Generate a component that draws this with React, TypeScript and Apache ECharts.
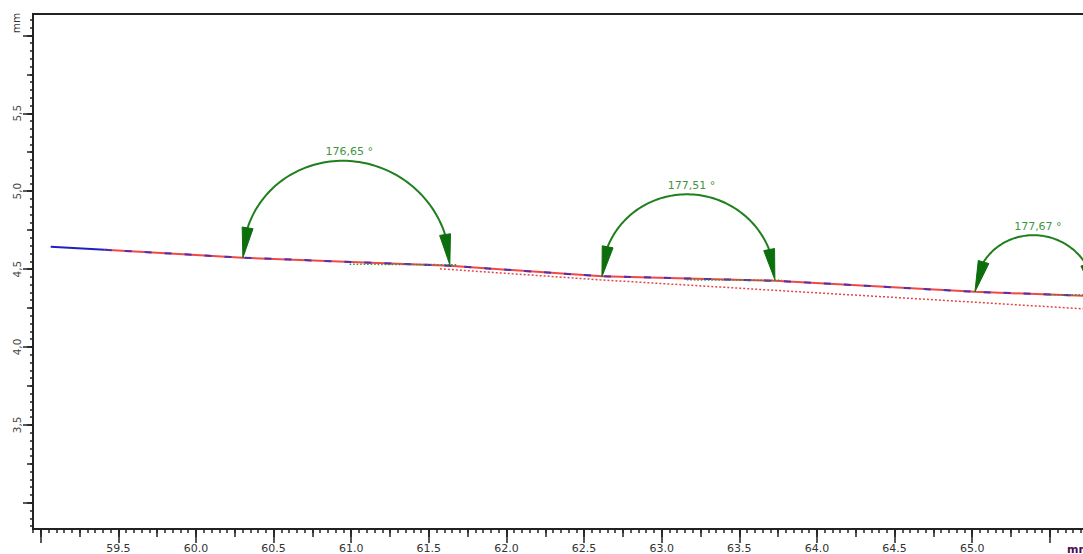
import React, { useEffect, useRef } from 'react';
import * as echarts from 'echarts';

// Axis ranges
const xMin = 58.95;
const xMax = 66.0;
const yMin = 2.832;
const yMax = 6.137;

// Tick labels
const xLabelValues = [59.5, 60.0, 60.5, 61.0, 61.5, 62.0, 62.5, 63.0, 63.5, 64.0, 64.5, 65.0];
const yLabelValues = [3.5, 4.0, 4.5, 5.0, 5.5];

// Main measured profile
const blueStartX = [59.064, 59.412];
const blueStartY = [4.643, 4.624];
const profileX = [59.412, 60.302, 61.635, 62.615, 63.729, 65.018, 65.714, 65.95];
const profileY = [4.624, 4.573, 4.521, 4.454, 4.425, 4.354, 4.329, 4.318];

// Red dotted fitted line
const redDotX = [61.571, 62.602, 63.89, 64.857, 65.714, 65.95];
const redDotY = [4.502, 4.431, 4.354, 4.297, 4.245, 4.232];

// Green dotted reference segments
const green1X = [60.99, 61.687];
const green1Y = [4.531, 4.528];
const green2X = [63.162, 63.774];
const green2Y = [4.431, 4.428];
const green3X = [65.482, 65.95];
const green3Y = [4.335, 4.333];

// Angle annotations
const angleLeftX = [60.302, 62.615, 65.018];
const angleLeftY = [4.573, 4.451, 4.354];
const angleRightX = [61.635, 63.729, 65.79];
const angleRightY = [4.528, 4.432, 4.335];
const angleLabels = ['176,65 °', '177,51 °', '177,67 °'];

function ticks(from: number, to: number, step: number): number[] {
  const out: number[] = [];
  const n = Math.round((to - from) / step);
  for (let i = 0; i <= n; i++) out.push(Math.round((from + i * step) * 1000) / 1000);
  return out;
}

const xMinor = ticks(58.95, 66.0, 0.05);
const xMed = ticks(59.0, 66.0, 0.25);
const xMajor = ticks(59.0, 66.0, 0.5);
const yMinor = ticks(2.85, 6.1, 0.05);
const yMed = ticks(3.0, 6.0, 0.25);
const yMajor = ticks(3.0, 6.0, 0.5);

const pairs = (xs: number[], ys: number[]) => xs.map((x, i) => [x, ys[i]]);

const AXIS_COLOR = '#222';
const FONT = 'DejaVu Sans';
const CHART_W = 1128;

export default function App() {
  const ref = useRef<HTMLDivElement>(null);
  useEffect(() => {
    if (!ref.current) return;
    const chart = echarts.init(ref.current, undefined, { renderer: 'svg' });

    const mkX = (vals: number[], len: number, main: boolean) => ({
      type: 'value',
      min: xMin,
      max: xMax,
      position: 'bottom',
      splitLine: { show: false },
      axisLine: { show: main, onZero: false, lineStyle: { color: AXIS_COLOR, width: 2 } },
      axisTick: { show: true, customValues: vals, length: len, lineStyle: { color: AXIS_COLOR, width: 1.5 } },
      axisLabel: main
        ? {
            show: true,
            customValues: xLabelValues,
            formatter: (v: number) => v.toFixed(1),
            color: '#333',
            fontFamily: FONT,
            fontSize: 11,
            margin: 14,
          }
        : { show: false },
    });
    const mkY = (vals: number[], len: number, main: boolean) => ({
      type: 'value',
      min: yMin,
      max: yMax,
      position: 'left',
      splitLine: { show: false },
      axisLine: { show: main, onZero: false, lineStyle: { color: AXIS_COLOR, width: 2 } },
      axisTick: { show: true, customValues: vals, length: len, lineStyle: { color: AXIS_COLOR, width: 1.5 } },
      axisLabel: main
        ? {
            show: true,
            customValues: yLabelValues,
            formatter: (v: number) => v.toFixed(1).replace('.', ','),
            color: '#444',
            fontFamily: FONT,
            fontSize: 10.5,
            rotate: 90,
            margin: 11,
          }
        : { show: false },
    });

    const greenData: any[] = [...pairs(green1X, green1Y), null, ...pairs(green2X, green2Y), null, ...pairs(green3X, green3Y)];

    const angleData = angleLeftX.map((x, i) => [x, angleLeftY[i], angleRightX[i], angleRightY[i]]);

    chart.setOption({
      animation: false,
      backgroundColor: '#fff',
      grid: {
        left: 33,
        top: 14,
        right: 0.6,
        bottom: 24.5,
        show: true,
        borderColor: AXIS_COLOR,
        borderWidth: 2,
        containLabel: false,
      },
      xAxis: [mkX(xMinor, 4, true), mkX(xMed, 8, false), mkX(xMajor, 14, false)],
      yAxis: [mkY(yMinor, 3, true), mkY(yMed, 6, false), mkY(yMajor, 10, false)],
      graphic: [
        {
          type: 'text',
          x: 16,
          y: 23,
          rotation: Math.PI / 2,
          style: { text: 'mm', fill: '#333', font: `10.5px "${FONT}"`, align: 'center', verticalAlign: 'middle' },
        },
        {
          type: 'text',
          x: 1067,
          y: 549,
          style: { text: 'mm', fill: '#4a1050', font: `bold 11px "${FONT}"`, align: 'left', verticalAlign: 'middle' },
        },
      ],
      series: [
        {
          type: 'line',
          data: pairs(profileX, profileY),
          showSymbol: false,
          lineStyle: { color: '#f04848', width: 2 },
          z: 2,
        },
        {
          type: 'line',
          data: pairs(blueStartX, blueStartY),
          showSymbol: false,
          lineStyle: { color: '#2020c0', width: 2 },
          z: 3,
        },
        {
          type: 'line',
          data: pairs(profileX, profileY),
          showSymbol: false,
          lineStyle: { color: '#5030b0', width: 2, type: [7, 13] },
          z: 3,
        },
        {
          type: 'line',
          data: pairs(redDotX, redDotY),
          showSymbol: false,
          lineStyle: { color: '#e04848', width: 1.5, type: [2, 2] },
          z: 2,
        },
        {
          type: 'line',
          data: greenData,
          connectNulls: false,
          showSymbol: false,
          lineStyle: { color: '#3a8a3a', width: 1.5, type: [1.5, 2] },
          z: 4,
        },
        {
          type: 'custom',
          data: angleData,
          encode: { x: [0, 2], y: [1, 3] },
          clip: false,
          z: 5,
          renderItem: (params: any, api: any) => {
            const p1 = api.coord([api.value(0), api.value(1)]);
            const p2 = api.coord([api.value(2), api.value(3)]);
            const cx = (p1[0] + p2[0]) / 2;
            const r = (p2[0] - p1[0]) / 2;
            const rise = r * 0.97;
            const pt = (th: number) => {
              const x = cx + r * Math.cos(th);
              const t = (x - p1[0]) / (p2[0] - p1[0]);
              const by = p1[1] + t * (p2[1] - p1[1]);
              return [x, by - rise * Math.sin(th)];
            };
            const h = 30;
            const thA = Math.asin(Math.min(1, h / rise));
            const start = Math.PI - thA;
            const end = thA;
            const pts: number[][] = [];
            for (let i = 0; i <= 80; i++) pts.push(pt(start + ((end - start) * i) / 80));
            const arrow = (tip: number[], base: number[]) => {
              const dx = base[0] - tip[0];
              const dy = base[1] - tip[1];
              const len = Math.hypot(dx, dy);
              const nx = (-dy / len) * 5.5;
              const ny = (dx / len) * 5.5;
              return [tip, [base[0] + nx, base[1] + ny], [base[0] - nx, base[1] - ny]];
            };
            const apex = pt(Math.PI / 2);
            return {
              type: 'group',
              children: [
                {
                  type: 'polyline',
                  shape: { points: pts },
                  style: { stroke: '#1f7f1f', lineWidth: 2, fill: null },
                },
                {
                  type: 'polygon',
                  shape: { points: arrow([p1[0], p1[1]], pt(start)) },
                  style: { fill: '#0c6e0c', stroke: '#0c6e0c', lineWidth: 1 },
                },
                {
                  type: 'polygon',
                  shape: { points: arrow([p2[0], p2[1]], pt(end)) },
                  style: { fill: '#0c6e0c', stroke: '#0c6e0c', lineWidth: 1 },
                },
                {
                  type: 'text',
                  x: apex[0] + 3,
                  y: apex[1] - 9,
                  style: {
                    text: angleLabels[params.dataIndex],
                    fill: '#3f963f',
                    font: `11px "${FONT}"`,
                    align: 'center',
                    verticalAlign: 'middle',
                  },
                },
              ],
            };
          },
        },
      ],
    });
    return () => chart.dispose();
  }, []);
  return (
    <div style={{ position: 'fixed', left: 0, top: 0, width: 1083, height: 554, overflow: 'hidden', background: '#fff' }}>
      <div ref={ref} style={{ width: CHART_W, height: 554 }} />
    </div>
  );
}
